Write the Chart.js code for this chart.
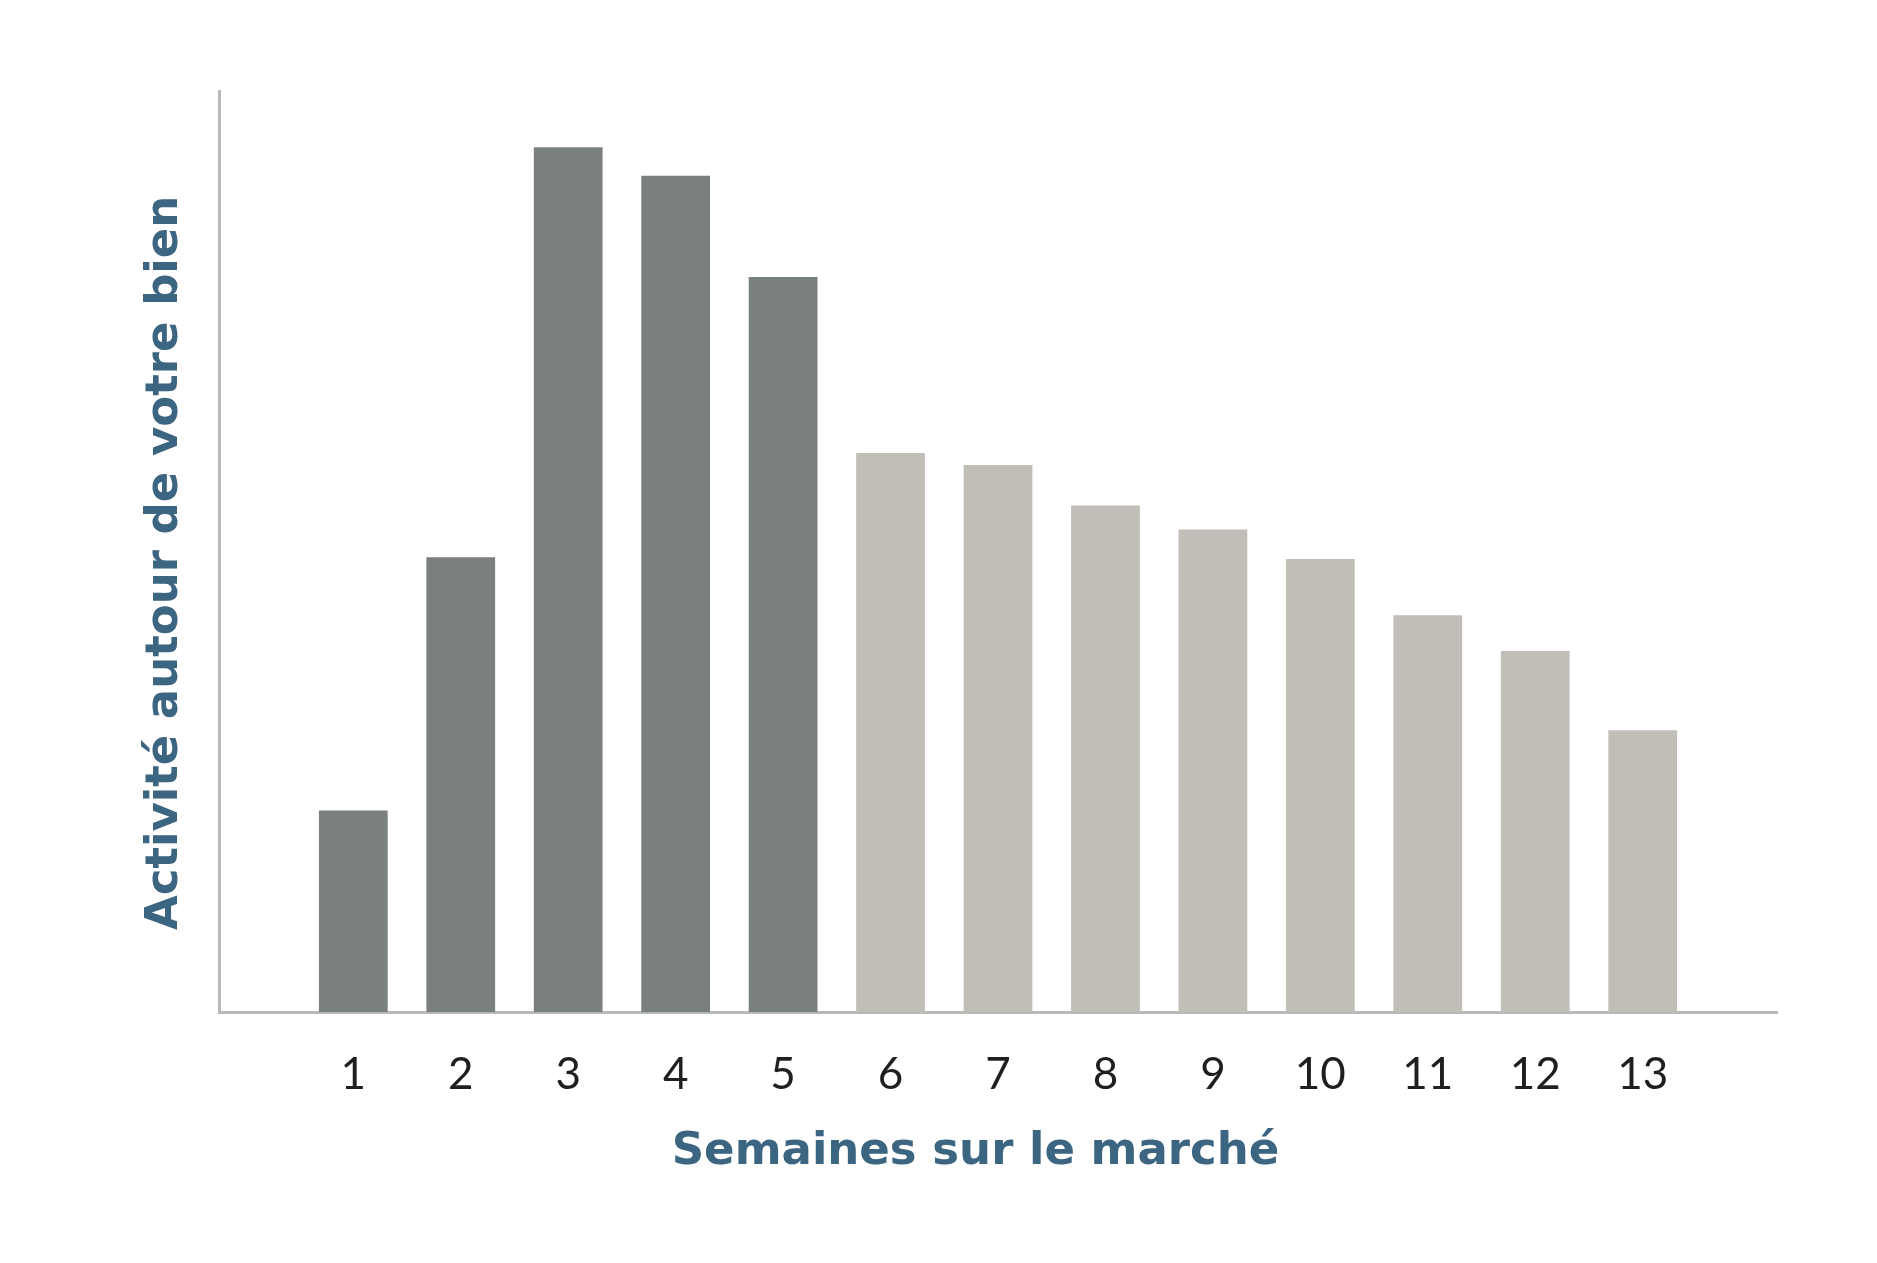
<!DOCTYPE html>
<html lang="fr">
<head>
<meta charset="utf-8">
<title>Activité autour de votre bien</title>
<script src="https://cdn.jsdelivr.net/npm/chart.js@4/dist/chart.umd.min.js"></script>
<style>
  html, body { margin: 0; padding: 0; background: #ffffff; }
  #wrap { width: 1877px; height: 1263px; position: relative; }
</style>
</head>
<body>
<div id="wrap"><canvas id="activityChart"></canvas></div>
<script>
// weeks on the market and the activity level (0-100 scale)
const weeks = [1, 2, 3, 4, 5, 6, 7, 8, 9, 10, 11, 12, 13];
const activity = [21.9, 49.4, 93.9, 90.8, 79.8, 60.7, 59.4, 55.0, 52.4, 49.2, 43.1, 39.2, 30.6];
const firstWeeks = 5; // the early weeks drawn darker

const xTitle = "Semaines sur le marché";
const yTitle = "Activité autour de votre bien";

const darkBar = "#7a807f";
const lightBar = "#c1beb8";
const axisColor = "#b9b9b9";
const titleColor = "#3b6581";

function buildChart(){
  const ctx = document.getElementById("activityChart").getContext("2d");
  const points = weeks.map((w, i) => ({ x: w, y: activity[i] }));
  const colors = weeks.map(w => w <= firstWeeks ? darkBar : lightBar);

  window._activityChart = new Chart(ctx, {
    type: "bar",
    data: {
      datasets: [{
        label: yTitle,
        data: points,
        backgroundColor: colors,
        borderWidth: 0,
        categoryPercentage: 0.8,
        barPercentage: 0.8
      }]
    },
    options: {
      responsive: true,
      maintainAspectRatio: false,
      animation: false,
      layout: { padding: { top: 91, right: 100, bottom: 84, left: 111 } },
      plugins: {
        legend: { display: false },
        tooltip: { enabled: false }
      },
      scales: {
        x: {
          type: "linear",
          min: -0.25,
          max: 14.25,
          offset: false,
          // tick marks kept invisible, their length only spaces the labels off the axis
          grid: { display: false, drawTicks: true, tickLength: 36, offset: false },
          border: { display: true, color: axisColor, width: 3 },
          afterBuildTicks: axis => { axis.ticks = weeks.map(v => ({ value: v })); },
          ticks: {
            color: "#1f1f1f",
            padding: 0,
            maxRotation: 0,
            autoSkip: false,
            font: { family: "Lato", size: 44 }
          },
          title: {
            display: true,
            // the trailing space nudges the centred title a little to the left, as in the original
            text: xTitle + "\u2003",
            color: titleColor,
            padding: { top: 24, bottom: 0 },
            font: { family: "'DejaVu Sans'", size: 45, weight: "bold" }
          }
        },
        y: {
          min: 0,
          max: 100,
          grid: { display: false, drawTicks: false },
          border: { display: true, color: axisColor, width: 3 },
          ticks: { display: false },
          title: {
            display: true,
            text: yTitle + "\u2002",
            color: titleColor,
            padding: 27,
            font: { family: "'DejaVu Sans'", size: 45, weight: "bold" }
          }
        }
      }
    }
  });
}

window.addEventListener("load", buildChart);
</script>
</body>
</html>
